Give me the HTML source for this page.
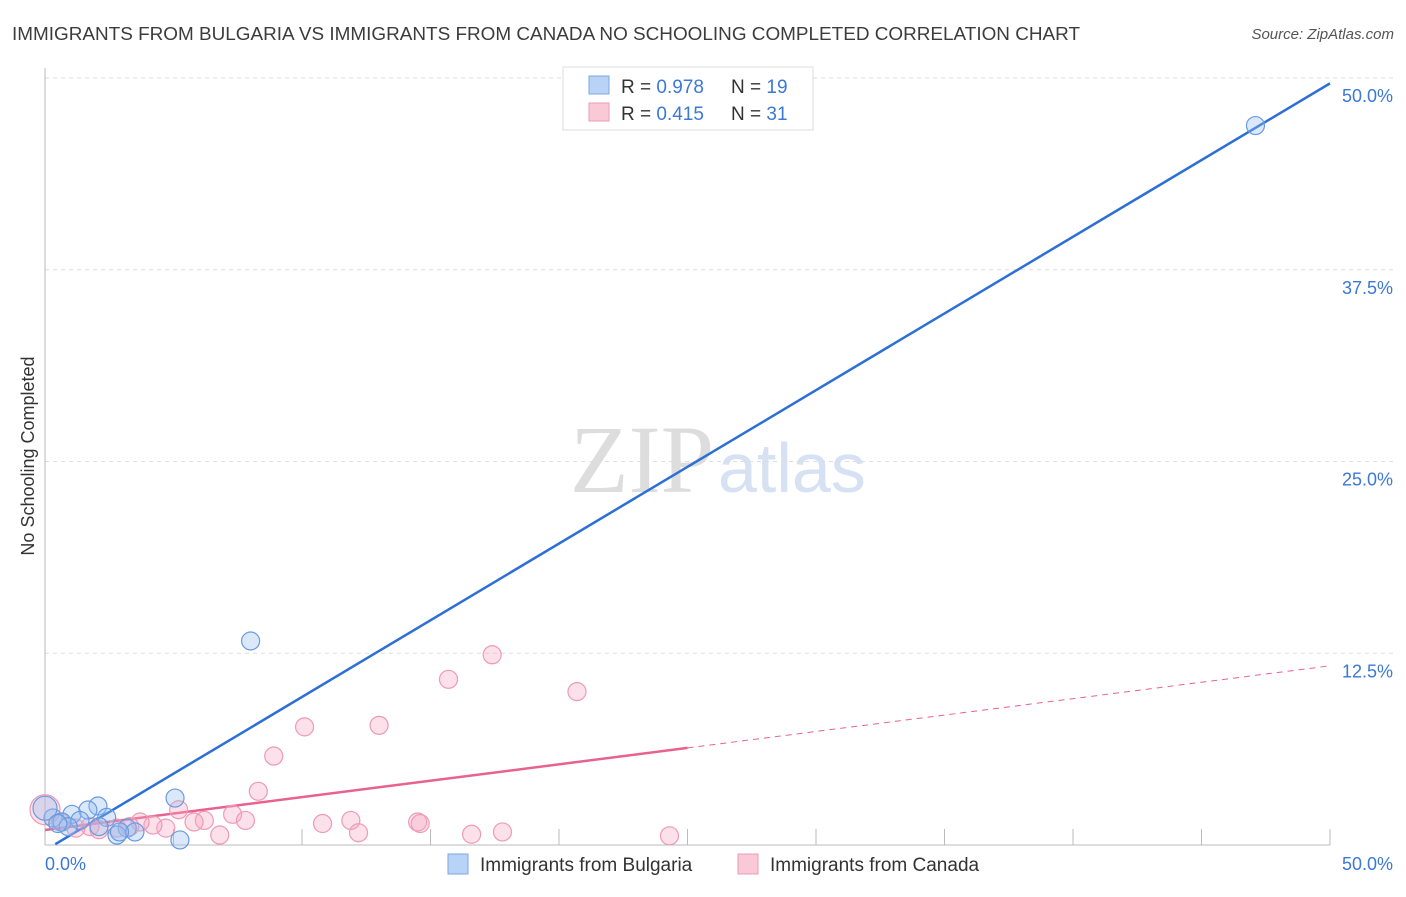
<!DOCTYPE html>
<html><head><meta charset="utf-8"><style>
body{margin:0;background:#fff;font-family:"Liberation Sans",sans-serif;}
</style></head><body>
<svg width="1406" height="892" xmlns="http://www.w3.org/2000/svg">
<text x="12" y="40" font-size="18" textLength="1068" lengthAdjust="spacingAndGlyphs" fill="#3c3c3c">IMMIGRANTS FROM BULGARIA VS IMMIGRANTS FROM CANADA NO SCHOOLING COMPLETED CORRELATION CHART</text>
<text x="1394" y="39" font-size="15" fill="#555" font-style="italic" text-anchor="end">Source: ZipAtlas.com</text>
<text x="714" y="492" font-size="96" fill="#ddd" text-anchor="end" font-family="Liberation Serif,serif">ZIP</text>
<text x="718" y="492" font-size="70" fill="#d6e1f4">atlas</text>
<text transform="translate(34,456) rotate(-90)" font-size="18" fill="#333" text-anchor="middle">No Schooling Completed</text>
<g id="grid"></g><g id="ticks"></g><g id="lines"></g><g id="pts"></g>
<g>
<rect x="563" y="67" width="250" height="63" fill="#fff" stroke="#ddd"/>
<rect x="589" y="76" width="20" height="18" fill="#b8d3f5" stroke="#7aa8e6"/>
<text x="621" y="93" font-size="19" fill="#333">R = <tspan fill="#3b78d8">0.978</tspan></text>
<text x="731" y="93" font-size="19" fill="#333">N = <tspan fill="#3b78d8">19</tspan></text>
<rect x="589" y="103" width="20" height="18" fill="#f9c9d8" stroke="#ee9ab5"/>
<text x="621" y="120" font-size="19" fill="#333">R = <tspan fill="#3b78d8">0.415</tspan></text>
<text x="731" y="120" font-size="19" fill="#333">N = <tspan fill="#3b78d8">31</tspan></text>
</g>
<g>
<rect x="448" y="854" width="20" height="20" fill="#b8d3f5" stroke="#7aa8e6"/>
<text x="480" y="871" font-size="19" fill="#333">Immigrants from Bulgaria</text>
<rect x="738" y="854" width="20" height="20" fill="#f9c9d8" stroke="#ee9ab5"/>
<text x="770" y="871" font-size="19" fill="#333">Immigrants from Canada</text>
</g>
</svg>
<script>
const bulgariaX=[47.1,8.0,5.06,2.06,1.67,1.05,0.31,0.66,1.36,2.4,3.2,2.8,3.5,5.25,0,2.1,0.9,0.5,2.9];
const bulgariaY=[46.9,13.3,3.06,2.54,2.28,2.0,1.76,1.5,1.6,1.8,1.1,0.65,0.85,0.33,2.4,1.2,1.2,1.4,0.85];
const canadaX=[0,17.4,15.7,20.7,13,10.1,8.9,8.3,5.2,7.3,6.2,7.8,5.8,4.7,4.2,3.7,10.8,11.9,12.2,14.5,14.6,16.6,17.8,24.3,6.8,2.8,1.75,0.6,1.2,2.1,3.3];
const canadaY=[2.3,12.4,10.8,10.0,7.8,7.7,5.8,3.5,2.3,2.0,1.6,1.6,1.5,1.1,1.3,1.5,1.4,1.6,0.8,1.5,1.4,0.7,0.85,0.6,0.65,1.1,1.2,1.5,1.1,1.0,1.2];
const yTicks=[12.5,25,37.5,50];
const xTickLabels=["0.0%","50.0%"];
const blueFit=[1.0,-0.35];
const pinkFit=[0.214,0.98];
const NS="http://www.w3.org/2000/svg";
const sx=v=>45+v*25.7, sy=v=>845-v*15.34;
function mk(t,a,p){const e=document.createElementNS(NS,t);for(const k in a)e.setAttribute(k,a[k]);document.getElementById(p).appendChild(e);return e;}
yTicks.forEach(t=>{
 const l=mk('line',{x1:45,x2:1394,y1:sy(t),y2:sy(t),stroke:'#ddd','stroke-dasharray':'4,4'},'grid');
 
 
 const tx=mk('text',{x:1393,y:sy(t)+24,'font-size':18,fill:'#3b78d8','text-anchor':'end'},'grid');tx.textContent=t.toFixed(1)+'%';
 
 
});
mk('line',{x1:45,x2:45,y1:68,y2:845,stroke:'#bbb'},'ticks');
mk('line',{x1:45,x2:1330,y1:845,y2:845,stroke:'#bbb'},'ticks');
for(let v=5;v<=50;v+=5){const t=mk('line',{x1:sx(v),x2:sx(v),y1:829,y2:845,stroke:'#bbb'},'ticks');
 
 }
const a=mk('text',{x:45,y:870,'font-size':18,fill:'#3b78d8'},'ticks');a.textContent=xTickLabels[0];


const b=mk('text',{x:1393,y:870,'font-size':18,fill:'#3b78d8','text-anchor':'end'},'ticks');b.textContent=xTickLabels[1];


function pt(x,y,r,f,s,n){const c=mk('circle',{cx:sx(x),cy:sy(y),r:r,fill:f,stroke:s,'stroke-width':1.2},'pts');
 
 }
canadaX.forEach((x,i)=>pt(x,canadaY[i],i===0?15:9,'rgba(246,170,195,0.35)','#ee9ab5','canada-point'));
bulgariaX.forEach((x,i)=>pt(x,bulgariaY[i],i===14?12:9,'rgba(150,190,240,0.35)','#6a9ae0','bulgaria-point'));
const bl=mk('line',{x1:sx(0.4),y1:sy(blueFit[0]*0.4+blueFit[1]),x2:sx(50),y2:sy(blueFit[0]*50+blueFit[1]),stroke:'#2c6fd6','stroke-width':2.5},'lines');


const pl=mk('line',{x1:sx(0),y1:sy(pinkFit[1]),x2:sx(25),y2:sy(pinkFit[0]*25+pinkFit[1]),stroke:'#e8628f','stroke-width':2.5},'lines');


const pd=mk('line',{x1:sx(25),y1:sy(pinkFit[0]*25+pinkFit[1]),x2:sx(50),y2:sy(pinkFit[0]*50+pinkFit[1]),stroke:'#e8628f','stroke-width':1,'stroke-dasharray':'6,5'},'lines');


</script>
</body></html>
